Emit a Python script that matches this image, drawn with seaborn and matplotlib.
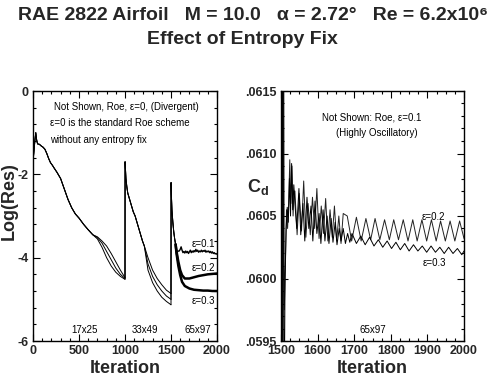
import matplotlib
matplotlib.use("Agg")
import matplotlib.pyplot as plt
import seaborn as sns
from matplotlib.ticker import MultipleLocator

# ---------------- data ----------------
# Left panel: log residual history, three multigrid levels
seg1_iter = [0, 10, 20, 30, 40, 50, 70, 90, 110, 130, 150, 170, 190, 210, 230, 260, 300,
             340, 380, 420, 460, 500, 550, 600, 650, 700, 750, 800, 850, 900, 950, 1000]
seg1_common = [-1.7, -1.45, -1.2, -1.0, -1.18, -1.27, -1.28, -1.32, -1.35, -1.4, -1.5, -1.62,
               -1.72, -1.78, -1.85, -1.95, -2.1, -2.35, -2.6, -2.8, -2.95, -3.05, -3.2, -3.33, -3.45]
seg1_tail_e1 = [-3.50, -3.60, -3.72, -3.90, -4.10, -4.30, -4.48]
seg1_tail_e2 = [-3.52, -3.65, -3.85, -4.05, -4.25, -4.40, -4.50]
seg1_tail_e3 = [-3.55, -3.75, -4.00, -4.20, -4.35, -4.45, -4.52]

seg2_iter = [1001, 1010, 1020, 1030, 1050, 1070, 1090, 1110, 1130, 1150, 1170, 1190, 1210,
             1250, 1300, 1350, 1400, 1450, 1500]
seg2_common = [-1.7, -2.1, -2.3, -2.45, -2.6, -2.75, -2.9, -3.0, -3.15, -3.3, -3.45, -3.6, -3.72]
seg2_tail_e1 = [-4.00, -4.30, -4.50, -4.65, -4.78, -4.86]
seg2_tail_e2 = [-4.15, -4.45, -4.65, -4.80, -4.92, -5.00]
seg2_tail_e3 = [-4.30, -4.60, -4.80, -4.95, -5.05, -5.13]

seg3_iter = [1501, 1505, 1510, 1520, 1530, 1540, 1550]
seg3_common = [-2.2, -2.55, -2.85, -3.15, -3.38, -3.55, -3.68]

e1_tail_iter = [1560, 1570, 1580, 1590, 1600, 1610, 1620, 1630, 1640, 1650, 1660, 1670, 1680,
                1690, 1700, 1710, 1720, 1730, 1740, 1750, 1760, 1770, 1780, 1790, 1800, 1810,
                1820, 1830, 1840, 1850, 1860, 1870, 1880, 1890, 1900, 1910, 1920, 1930, 1940,
                1950, 1960, 1970, 1980, 1990, 2000]
e1_tail = [-3.82, -3.86, -3.84, -3.84, -3.80, -3.74, -3.82, -3.88, -3.85, -3.89, -3.84, -3.88,
           -3.85, -3.90, -3.86, -3.82, -3.88, -3.84, -3.87, -3.83, -3.86, -3.80, -3.85, -3.82,
           -3.87, -3.84, -3.86, -3.82, -3.86, -3.83, -3.85, -3.82, -3.87, -3.84, -3.86, -3.84,
           -3.88, -3.85, -3.89, -3.86, -3.90, -3.88, -3.91, -3.90, -3.92]
e23_tail_iter = [1560, 1580, 1600, 1620, 1650, 1700, 1750, 1800, 1850, 1900, 1950, 2000]
e2_tail = [-3.85, -4.10, -4.30, -4.42, -4.50, -4.50, -4.47, -4.44, -4.42, -4.40, -4.39, -4.38]
e3_tail = [-3.90, -4.20, -4.42, -4.58, -4.68, -4.74, -4.77, -4.78, -4.79, -4.79, -4.80, -4.80]

# Right panel: drag coefficient history on the fine grid
cd_e2_iter = [1500, 1503, 1506, 1509, 1512, 1515, 1518, 1521, 1524, 1527, 1530, 1533, 1536,
              1538, 1544, 1550, 1556, 1562, 1568, 1574, 1580, 1586, 1592, 1598, 1604, 1610,
              1616, 1622, 1628, 1634, 1640, 1646, 1652, 1658, 1664, 1670, 1681, 1693, 1706,
              1719, 1732, 1745, 1757, 1770, 1783, 1796, 1808, 1821, 1834, 1847, 1860, 1872,
              1885, 1898, 1911, 1924, 1936, 1949, 1962, 1975, 1988, 2000]
cd_e2 = [0.0650, 0.0570, 0.0640, 0.05975, 0.06010, 0.06055, 0.06040, 0.06060, 0.06095,
         0.06060, 0.06090, 0.06050, 0.06070, 0.06070, 0.06035, 0.06068, 0.06038, 0.06078,
         0.06033, 0.06060, 0.06035, 0.06065, 0.06040, 0.06072, 0.06032, 0.06058, 0.06036,
         0.06064, 0.06030, 0.06055, 0.06033, 0.06058, 0.06030, 0.06050, 0.06028, 0.06052,
         0.06050, 0.06030, 0.06049, 0.06030, 0.06048, 0.06031, 0.06048, 0.06031, 0.06047,
         0.06031, 0.06047, 0.06031, 0.06047, 0.06030, 0.06047, 0.06030, 0.06047, 0.06030,
         0.06047, 0.06030, 0.06046, 0.06030, 0.06046, 0.06030, 0.06046, 0.06032]
cd_e3_iter = [1500, 1502, 1505, 1508, 1511, 1514, 1517, 1520, 1523, 1526, 1529, 1532, 1535,
              1538, 1543, 1549, 1554, 1560, 1565, 1571, 1576, 1582, 1587, 1593, 1598, 1604,
              1609, 1615, 1620, 1626, 1631, 1637, 1642, 1648, 1653, 1659, 1664, 1670, 1676,
              1682, 1688, 1694, 1706, 1718, 1730, 1742, 1754, 1766, 1778, 1790, 1802, 1814,
              1826, 1838, 1850, 1862, 1874, 1886, 1898, 1910, 1922, 1934, 1946, 1958, 1970,
              1982, 1994, 2000]
cd_e3 = [0.0640, 0.0560, 0.0635, 0.0585, 0.06000, 0.06040, 0.06057, 0.06045, 0.06080,
         0.06050, 0.06092, 0.06055, 0.06075, 0.06060, 0.06040, 0.06072, 0.06035, 0.06060,
         0.06030, 0.06065, 0.06040, 0.06058, 0.06030, 0.06062, 0.06036, 0.06052, 0.06028,
         0.06055, 0.06030, 0.06050, 0.06028, 0.06048, 0.06029, 0.06045, 0.06027, 0.06040,
         0.06030, 0.06040, 0.06028, 0.06036, 0.06029, 0.06036, 0.06028, 0.06034, 0.06027,
         0.06033, 0.06026, 0.06031, 0.06025, 0.06030, 0.06024, 0.06029, 0.06023, 0.06028,
         0.06022, 0.06027, 0.06022, 0.06026, 0.06021, 0.06026, 0.06021, 0.06025, 0.06020,
         0.06025, 0.06020, 0.06024, 0.06019, 0.06022]

left_xticks = [0, 500, 1000, 1500, 2000]
left_yticks = [0, -2, -4, -6]
left_yticklabels = ["0", "-2", "-4", "-6"]
right_xticks = [1500, 1600, 1700, 1800, 1900, 2000]
right_yticks = [0.0595, 0.0600, 0.0605, 0.0610, 0.0615]
right_yticklabels = [".0595", ".0600", ".0605", ".0610", ".0615"]

# ---------------- style ----------------
sns.set_style("ticks", {"xtick.direction": "in", "ytick.direction": "in"})
plt.rcParams["font.family"] = ["Liberation Sans", "DejaVu Sans"]
plt.rcParams["font.weight"] = "bold"
plt.rcParams["axes.unicode_minus"] = False
plt.rcParams["mathtext.fontset"] = "custom"
plt.rcParams["mathtext.rm"] = "Liberation Sans:bold"
plt.rcParams["mathtext.it"] = "Liberation Sans:bold"
plt.rcParams["mathtext.bf"] = "Liberation Sans:bold"

fig = plt.figure(figsize=(4.94, 3.77), dpi=100)
axL = fig.add_axes([33 / 494, 1 - 341 / 377, 184 / 494, 250 / 377])
axR = fig.add_axes([281 / 494, 1 - 341 / 377, 183 / 494, 250 / 377])

lw = 0.7


def line(ax, x, y, width=lw, color="black"):
    sns.lineplot(x=x, y=y, ax=ax, linewidth=width, color=color,
                 estimator=None, sort=False, legend=False)


# left panel
for t1, t2 in [(seg1_tail_e1, seg2_tail_e1), (seg1_tail_e2, seg2_tail_e2), (seg1_tail_e3, seg2_tail_e3)]:
    y1 = seg1_common + t1
    line(axL, seg1_iter, y1)
    y2 = [y1[-1]] + seg2_common + t2
    line(axL, [1000] + seg2_iter, y2)
    y3 = [y2[-1]] + seg3_common
    line(axL, [1500] + seg3_iter, y3)

line(axL, [1550] + e1_tail_iter, [seg3_common[-1]] + e1_tail, 1.0)
line(axL, [1550] + e23_tail_iter, [seg3_common[-1]] + e2_tail, 1.8)
line(axL, [1550] + e23_tail_iter, [seg3_common[-1]] + e3_tail, 1.8)

axL.set_xlim(0, 2000)
axL.set_ylim(-6, 0)
axL.set_xticks(left_xticks)
axL.set_yticks(left_yticks)
axL.set_yticklabels(left_yticklabels)
axL.xaxis.set_minor_locator(MultipleLocator(100))
axL.yaxis.set_minor_locator(MultipleLocator(0.4))

ann = dict(fontsize=7, fontweight="normal", color="black")
axL.text(1014, -0.38, "Not Shown, Roe, ε=0, (Divergent)", ha="center", va="center", **ann)
axL.text(185, -0.78, "ε=0 is the standard Roe scheme", ha="left", va="center", **ann)
axL.text(185, -1.18, "without any entropy fix", ha="left", va="center", **ann)
axL.text(565, -5.74, "17x25", ha="center", va="center", **ann)
axL.text(1217, -5.74, "33x49", ha="center", va="center", **ann)
axL.text(1793, -5.74, "65x97", ha="center", va="center", **ann)
axL.text(1848, -3.67, "ε=0.1", ha="center", va="center", **ann)
axL.text(1848, -4.25, "ε=0.2", ha="center", va="center", **ann)
axL.text(1848, -5.04, "ε=0.3", ha="center", va="center", **ann)

# right panel
line(axR, cd_e2_iter, cd_e2, 0.7, "#222222")
line(axR, cd_e3_iter, cd_e3, 0.7, "black")
axR.set_xlim(1500, 2000)
axR.set_ylim(0.0595, 0.0615)
axR.set_xticks(right_xticks)
axR.set_yticks(right_yticks)
axR.set_yticklabels(right_yticklabels)
axR.xaxis.set_minor_locator(MultipleLocator(25))
axR.yaxis.set_minor_locator(MultipleLocator(0.0001))

axR.text(1748, 0.06129, "Not Shown: Roe, ε=0.1", ha="center", va="center", **ann)
axR.text(1761, 0.06116, "(Highly Oscillatory)", ha="center", va="center", **ann)
axR.text(1751, 0.05959, "65x97", ha="center", va="center", **ann)
axR.text(1915, 0.06049, "ε=0.2", ha="center", va="center", **ann)
axR.text(1918, 0.06012, "ε=0.3", ha="center", va="center", **ann)

for ax in (axL, axR):
    ax.tick_params(which="both", direction="in", top=True, right=True,
                   labelsize=9, width=0.8, color="black", pad=3)
    ax.tick_params(which="major", length=5)
    ax.tick_params(which="minor", length=2.5)
    for s in ax.spines.values():
        s.set_linewidth(1.0)
        s.set_color("black")
    for lab in ax.get_xticklabels() + ax.get_yticklabels():
        lab.set_fontweight("bold")
    ax.set_xlabel("Iteration", fontsize=13, fontweight="bold", labelpad=2)

axL.set_ylabel("Log(Res)", fontsize=13, fontweight="bold")
axL.yaxis.set_label_coords(-0.085, 0.56)
axR.set_ylabel(r"C$_{\rm d}$", fontsize=13, fontweight="bold", rotation=0,
               va="center", ha="center")
axR.yaxis.set_label_coords(-0.126, 0.616)

fig.text(253 / 494, 1 - 16 / 377, "RAE 2822 Airfoil   M = 10.0   α = 2.72°   Re = 6.2x10⁶",
         ha="center", va="center", fontsize=14, fontweight="bold")
fig.text(242 / 494, 1 - 40 / 377, "Effect of Entropy Fix",
         ha="center", va="center", fontsize=14, fontweight="bold")

fig.savefig("out.png", dpi=100)
